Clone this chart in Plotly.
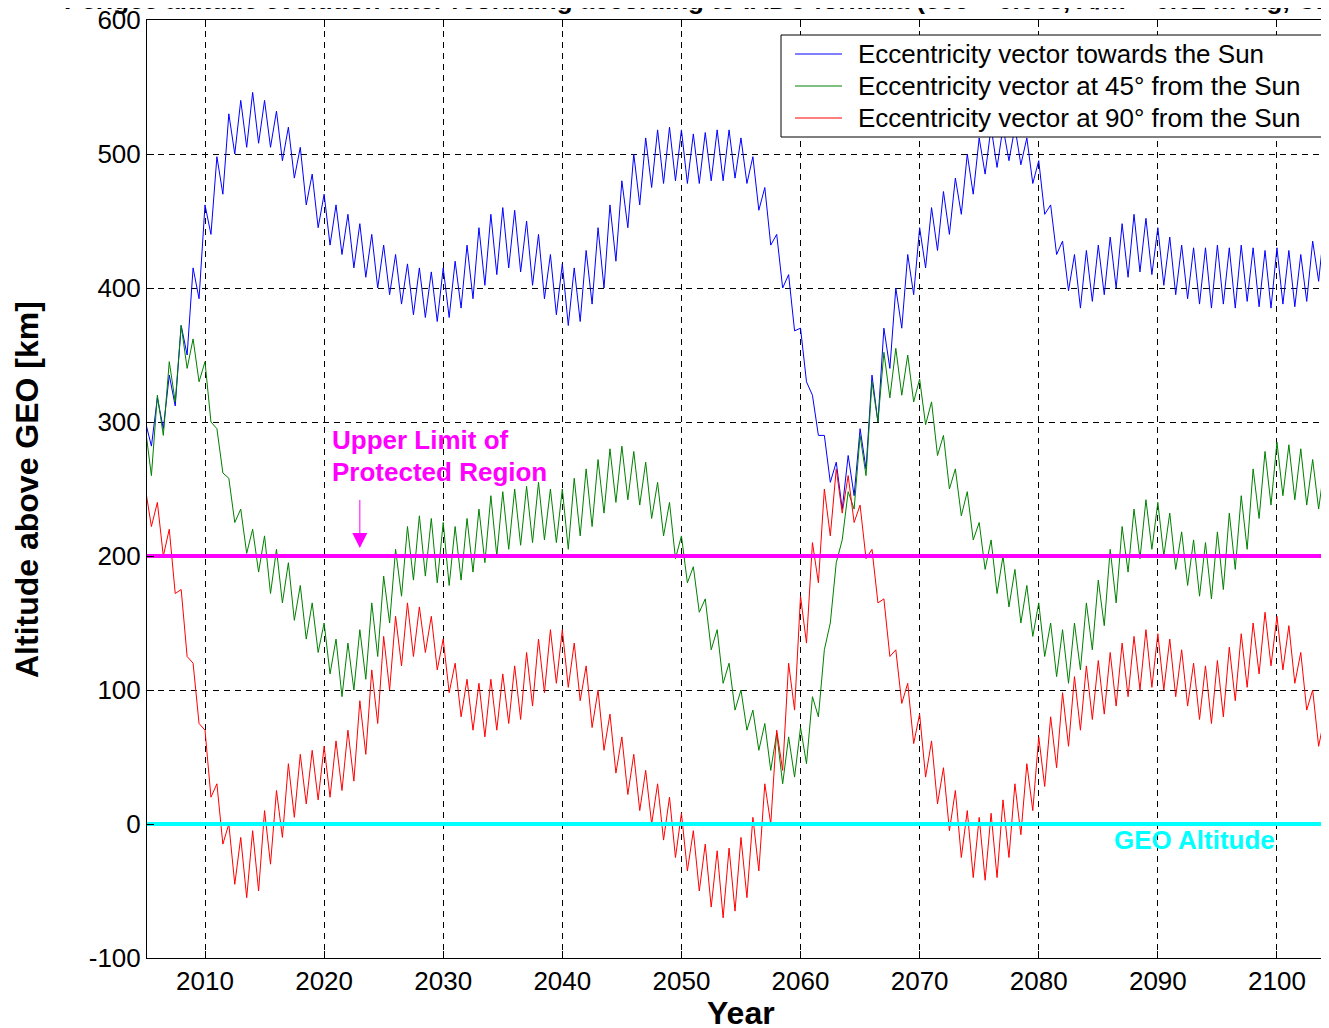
import plotly.graph_objects as go

FONT = "Liberation Sans, Arial, sans-serif"

years = list(range(2005, 2105))

# Perigee altitude above GEO [km], value at start of each year and at mid-year
blue_whole = [300, 318, 335, 372, 415, 462, 498, 530, 540, 546,
              540, 532, 520, 505, 485, 470, 462, 455, 448, 440,
              432, 425, 418, 415, 412, 415, 420, 432, 445, 455,
              460, 458, 450, 440, 425, 418, 415, 428, 445, 462,
              480, 500, 512, 518, 520, 518, 515, 516, 518, 518,
              512, 498, 475, 440, 410, 370, 320, 290, 270, 275,
              295, 335, 370, 400, 425, 445, 460, 472, 482, 500,
              512, 520, 520, 520, 512, 495, 462, 435, 425, 428,
              432, 438, 448, 455, 452, 445, 438, 432, 430, 430,
              432, 430, 432, 430, 428, 430, 428, 425, 435, 448]
blue_half = [282, 295, 312, 350, 392, 440, 470, 500, 505, 508,
             505, 495, 482, 462, 445, 432, 425, 415, 408, 400,
             395, 388, 380, 378, 375, 378, 385, 392, 402, 410,
             415, 412, 402, 392, 380, 372, 375, 388, 400, 420,
             445, 462, 475, 478, 480, 478, 478, 480, 480, 482,
             478, 458, 432, 400, 368, 330, 290, 255, 235, 245,
             265, 300, 340, 370, 395, 415, 428, 440, 455, 470,
             485, 490, 495, 492, 478, 455, 425, 398, 385, 390,
             395, 400, 408, 412, 410, 402, 395, 392, 388, 385,
             388, 385, 390, 386, 385, 388, 386, 390, 405, 430]

green_whole = [295, 320, 345, 372, 362, 345, 295, 258, 235, 220,
               215, 205, 195, 178, 165, 150, 138, 135, 145, 165,
               185, 205, 222, 230, 228, 225, 222, 228, 235, 245,
               248, 250, 252, 255, 250, 250, 258, 265, 272, 280,
               282, 278, 270, 255, 240, 215, 192, 168, 145, 120,
               100, 85, 75, 68, 65, 72, 95, 130, 195, 248,
               290, 330, 352, 355, 350, 332, 315, 290, 265, 248,
               225, 212, 200, 190, 178, 165, 150, 145, 150, 165,
               182, 205, 222, 235, 242, 240, 232, 218, 212, 210,
               218, 232, 245, 265, 278, 285, 283, 280, 272, 268]
green_half = [260, 290, 315, 340, 330, 300, 262, 225, 202, 188,
              172, 165, 152, 138, 128, 112, 95, 100, 108, 125,
              150, 170, 182, 185, 180, 178, 182, 188, 195, 200,
              205, 208, 210, 212, 210, 205, 215, 222, 232, 240,
              242, 238, 228, 215, 198, 180, 158, 130, 105, 85,
              70, 55, 40, 30, 35, 45, 80, 150, 212, 235,
              260, 300, 318, 320, 315, 298, 275, 250, 230, 212,
              190, 172, 162, 150, 140, 125, 110, 105, 115, 130,
              148, 165, 188, 198, 205, 200, 190, 178, 170, 168,
              175, 190, 205, 228, 238, 245, 242, 238, 235, 248]

red_whole = [250, 240, 220, 175, 120, 70, 30, 0, -10, -5,
             10, 25, 45, 52, 55, 58, 62, 70, 92, 115,
             140, 155, 165, 162, 155, 138, 120, 108, 105, 108,
             112, 118, 128, 138, 145, 145, 135, 118, 100, 82,
             65, 52, 40, 30, 20, 8, -5, -15, -20, -18,
             -10, 5, 30, 70, 120, 170, 210, 250, 265, 260,
             238, 205, 168, 130, 105, 82, 62, 42, 25, 10,
             5, 8, 18, 30, 45, 65, 80, 98, 110, 118,
             122, 128, 135, 140, 145, 142, 138, 130, 120, 118,
             122, 132, 142, 150, 158, 155, 148, 128, 100, 80]
red_half = [222, 200, 172, 125, 75, 20, -15, -45, -55, -50,
            -30, -10, 5, 15, 18, 20, 25, 32, 52, 75,
            100, 118, 125, 128, 115, 98, 80, 70, 65, 70,
            75, 78, 88, 98, 105, 102, 92, 72, 55, 38,
            22, 10, 0, -12, -25, -35, -50, -62, -70, -65,
            -55, -35, 0, 40, 85, 135, 180, 215, 232, 225,
            198, 165, 125, 90, 60, 35, 15, -5, -25, -40,
            -42, -40, -25, -8, 10, 28, 42, 58, 70, 78,
            82, 88, 95, 100, 102, 100, 95, 88, 78, 75,
            80, 92, 102, 112, 118, 115, 105, 85, 58, 62]

series_names = ["Eccentricity vector towards the Sun",
                "Eccentricity vector at 45° from the Sun",
                "Eccentricity vector at 90° from the Sun"]
series_colors = ["#0000FF", "#008000", "#FF0000"]

protected_limit = 200
geo_altitude = 0
x_ticks = list(range(2010, 2101, 10))
y_ticks = list(range(-100, 601, 100))
y_ticktext = [str(v) for v in y_ticks]


def interleave(a, b):
    out = []
    for p, q in zip(a, b):
        out += [p, q]
    return out


t = []
for yr in years:
    t += [yr, yr + 0.5]

fig = go.Figure()
for name, col, w, h in zip(series_names, series_colors,
                           [blue_whole, green_whole, red_whole],
                           [blue_half, green_half, red_half]):
    fig.add_trace(go.Scatter(x=t, y=interleave(w, h), mode="lines", name=name,
                             line=dict(color=col, width=1), showlegend=False))

fig.add_trace(go.Scatter(x=[2005, 2105], y=[protected_limit] * 2, mode="lines",
                         line=dict(color="#FF00FF", width=4), showlegend=False, hoverinfo="skip"))
fig.add_trace(go.Scatter(x=[2005, 2105], y=[geo_altitude] * 2, mode="lines",
                         line=dict(color="#00FFFF", width=4), showlegend=False, hoverinfo="skip"))

axis_common = dict(showgrid=True, gridcolor="black", gridwidth=1, griddash="6px,5px",
                   showline=True, linecolor="black", linewidth=1, ticks="inside",
                   ticklen=7, tickcolor="black", zeroline=False, ticklabeloverflow="allow",
                   automargin=False,
                   tickfont=dict(family=FONT, size=26, color="black"))

fig.update_layout(
    width=1321, height=1020,
    margin=dict(l=139, r=0, t=12, b=70),
    plot_bgcolor="white", paper_bgcolor="white",
    font=dict(family=FONT, color="black"),
    xaxis=dict(range=[2005.13, 2104.37], tickvals=x_ticks, mirror="ticks", **axis_common),
    yaxis=dict(range=[-100, 600], tickvals=y_ticks, ticktext=y_ticktext, mirror=False, **axis_common),
    showlegend=False,
)


def px(xp):
    return (xp - 147) / 1182.0


def py(yp):
    return (958 - yp) / 938.0


shapes = []
ann = []
# legend box
shapes.append(dict(type="rect", xref="paper", yref="paper", x0=px(781), x1=px(1322),
                   y0=py(137), y1=py(35), fillcolor="white", line=dict(color="black", width=1),
                   layer="above"))
for i, (name, col) in enumerate(zip(series_names, series_colors)):
    yy = py(54 + 32 * i)
    shapes.append(dict(type="line", xref="paper", yref="paper", x0=px(795), x1=px(842),
                       y0=yy, y1=yy, line=dict(color=col, width=1), layer="above"))
    ann.append(dict(text=name, xref="paper", yref="paper", x=px(856), y=yy,
                    xanchor="left", yanchor="middle", showarrow=False,
                    font=dict(family=FONT, size=26, color="black")))

ann.append(dict(text="<b>Perigee altitude evolution after reorbiting according to IADC formula (ecc = 0.003, A/m = 0.02 m²/kg, Cr = 1.5)</b>",
                xref="paper", yref="paper", x=px(62), y=py(17), xanchor="left", yanchor="bottom",
                showarrow=False, font=dict(family=FONT, size=26, color="black")))
ann.append(dict(text="<b>Year</b>", xref="paper", yref="paper", x=px(741), y=py(1013),
                xanchor="center", yanchor="middle", showarrow=False,
                font=dict(family=FONT, size=32, color="black")))
ann.append(dict(text="<b>Altitude above GEO [km]</b>", xref="paper", yref="paper", x=px(27), y=py(490),
                xanchor="center", yanchor="middle", showarrow=False, textangle=-90,
                font=dict(family=FONT, size=32, color="black")))
ann.append(dict(text="<b>Upper Limit of</b>", xref="x", yref="y", x=2020.49, y=286.6,
                xanchor="left", yanchor="middle", showarrow=False,
                font=dict(family=FONT, size=26, color="#FF00FF")))
ann.append(dict(text="<b>Protected Region</b>", xref="x", yref="y", x=2020.49, y=262.7,
                xanchor="left", yanchor="middle", showarrow=False,
                font=dict(family=FONT, size=26, color="#FF00FF")))
ann.append(dict(text="", xref="x", yref="y", x=2023.0, y=206, axref="x", ayref="y",
                ax=2023.0, ay=243, showarrow=True, arrowhead=2, arrowsize=3,
                arrowwidth=1, arrowcolor="#FF00FF"))
ann.append(dict(text="<b>GEO Altitude</b>", xref="x", yref="y", x=2086.15, y=-11.9,
                xanchor="left", yanchor="middle", showarrow=False,
                font=dict(family=FONT, size=26, color="#00FFFF")))
fig.update_layout(annotations=ann, shapes=shapes)

fig.write_html("out.html")
